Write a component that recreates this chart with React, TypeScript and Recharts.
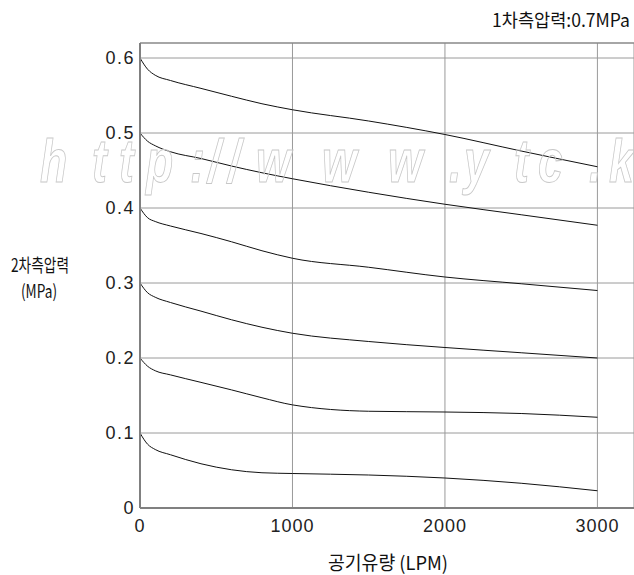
import { LineChart, Line, XAxis, YAxis, CartesianGrid, ReferenceLine } from "recharts";

// air flow (LPM) sample points shared by every curve
const flow = [0, 50, 100, 200, 400, 600, 800, 1000, 1500, 2000, 2500, 3000];

// secondary pressure (MPa) per set pressure, primary side 0.7 MPa
const set06 = [0.6, 0.585, 0.577, 0.570, 0.5595, 0.549, 0.539, 0.531, 0.516, 0.498, 0.476, 0.455];
const set05 = [0.5, 0.489, 0.483, 0.475, 0.466, 0.456, 0.447, 0.439, 0.421, 0.405, 0.391, 0.377];
const set04 = [0.4, 0.387, 0.382, 0.376, 0.366, 0.355, 0.343, 0.333, 0.321, 0.308, 0.299, 0.290];
const set03 = [0.3, 0.287, 0.281, 0.274, 0.2625, 0.251, 0.241, 0.233, 0.222, 0.214, 0.207, 0.200];
const set02 = [0.2, 0.189, 0.183, 0.1775, 0.1675, 0.1575, 0.147, 0.1375, 0.129, 0.128, 0.126, 0.121];
const set01 = [0.1, 0.085, 0.078, 0.071, 0.059, 0.051, 0.047, 0.046, 0.044, 0.040, 0.033, 0.023];

const series = [
  { key: "p06", values: set06 },
  { key: "p05", values: set05 },
  { key: "p04", values: set04 },
  { key: "p03", values: set03 },
  { key: "p02", values: set02 },
  { key: "p01", values: set01 },
];

const xTicks = [0, 1000, 2000, 3000];
const yTicks = [0, 0.1, 0.2, 0.3, 0.4, 0.5, 0.6];

const watermark = ["h", "t", "t", "p", ":", "/", "/", "w", "w", "w", ".", "y", "t", "c", ".", "k"];
const watermarkX = [40, 92, 119, 146, 190, 208, 228, 256, 322, 388, 449, 464, 514, 538, 589, 609];

const data = flow.map((q, i) => {
  const row: Record<string, number> = { q };
  series.forEach(s => { row[s.key] = s.values[i]; });
  return row;
});

const tickStyle = { fontSize: 18, fill: "#222", fontFamily: "Liberation Sans, Arial, sans-serif", letterSpacing: 1 };
const kr = "Noto Sans CJK KR, sans-serif";

export default function App() {
  return (
    <div style={{ position: "absolute", left: 0, top: 0, width: 634, height: 575, background: "#fff" }}>
      <LineChart width={634} height={575} data={data} margin={{ top: 43, right: 0, bottom: 27, left: 0 }}>
        <CartesianGrid stroke="#9a9a9a" strokeWidth={1} />
        <ReferenceLine y={0.62} stroke="#808080" strokeWidth={1.2} />
        <XAxis
          dataKey="q"
          type="number"
          domain={[0, 3240]}
          ticks={xTicks}
          allowDataOverflow
          height={40}
          tickSize={0}
          tickMargin={11}
          tick={tickStyle}
          axisLine={{ stroke: "#808080", strokeWidth: 2 }}
        />
        <YAxis
          type="number"
          domain={[0, 0.62]}
          ticks={yTicks}
          allowDataOverflow
          width={140}
          tickSize={0}
          tickMargin={5}
          tick={{ ...tickStyle, letterSpacing: 1.5 }}
          tickFormatter={(v: number) => (v === 0 ? "0" : v.toFixed(1))}
          axisLine={{ stroke: "#808080", strokeWidth: 2 }}
        />
        {series.map(s => (
          <Line
            key={s.key}
            dataKey={s.key}
            type="monotone"
            stroke="#111"
            strokeWidth={1}
            dot={false}
            isAnimationActive={false}
          />
        ))}
      </LineChart>
      <svg width={634} height={575} style={{ position: "absolute", left: 0, top: 0, pointerEvents: "none" }}>
        {watermark.map((c, i) => (
          <text
            key={i}
            transform={`translate(${watermarkX[i]} 182) scale(0.72 1)`}
            fontSize={62}
            fontStyle="italic"
            fontWeight="bold"
            fontFamily="Liberation Sans, Arial, sans-serif"
            fill="none"
            stroke="#c8c8c8"
            strokeWidth={1}
          >
            {c}
          </text>
        ))}
        <text x={11} y={264} dominantBaseline="central" fontSize={18} fontFamily={kr} fill="#111" textLength={58} lengthAdjust="spacingAndGlyphs">2차측압력</text>
        <text x={21} y={290} dominantBaseline="central" fontSize={18} fontFamily={kr} fill="#111" textLength={36} lengthAdjust="spacingAndGlyphs">(MPa)</text>
        <text x={492} y={19} dominantBaseline="central" fontSize={18} fontFamily={kr} fill="#111" textLength={138} lengthAdjust="spacingAndGlyphs">1차측압력:0.7MPa</text>
        <text x={328} y={561} dominantBaseline="central" fontSize={19} fontFamily={kr} fill="#111" textLength={120} lengthAdjust="spacingAndGlyphs">공기유량 (LPM)</text>
      </svg>
    </div>
  );
}
